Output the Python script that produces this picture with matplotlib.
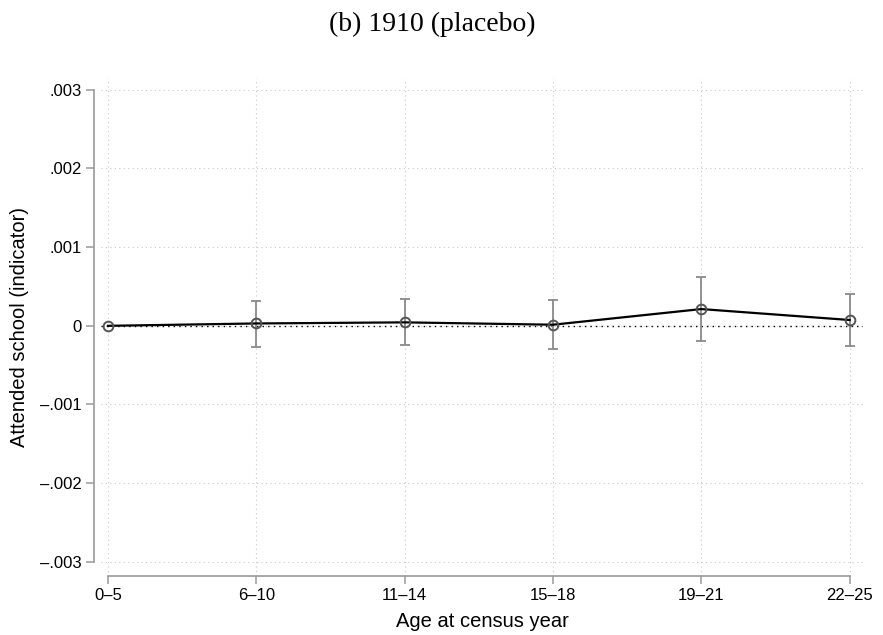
import matplotlib.pyplot as plt
import numpy as np

# event-study style estimates by age group, 1910 census (placebo)
age_groups = ["0–5", "6–10", "11–14", "15–18", "19–21", "22–25"]
coef = [0.0, 0.00003, 0.000044, 0.000014, 0.000213, 0.000074]
ci_low = [np.nan, -0.00027, -0.00025, -0.00029, -0.000189, -0.000253]
ci_high = [np.nan, 0.00031, 0.00034, 0.000328, 0.000624, 0.0004]
yticks = [-0.003, -0.002, -0.001, 0.0, 0.001, 0.002, 0.003]
ytick_labels = ["–.003", "–.002", "–.001", "0", ".001", ".002", ".003"]

plt.rcParams["font.family"] = ["Liberation Sans", "DejaVu Sans"]

fig = plt.figure(figsize=(8.83, 6.35), dpi=100)
ax = fig.add_axes([101 / 883, 1 - 576 / 635, 762 / 883, 498 / 635])

# spine placement first: moving a spine resets its axis' tick styling
for side in ["top", "right"]:
    ax.spines[side].set_visible(False)
ax.spines["left"].set_position(("outward", 5))

x = np.arange(len(age_groups))
coef = np.array(coef)
lo = np.array(ci_low)
hi = np.array(ci_high)
has_ci = ~np.isnan(lo)

grid_kw = dict(color="#c8c8c8", linestyle=(0, (1, 3)), linewidth=0.8, zorder=0)
for xv in x:
    ax.axvline(xv, **grid_kw)
for yv in yticks:
    ax.axhline(yv, **grid_kw)
ax.axhline(0, color="black", linestyle=(0, (1, 3)), linewidth=1.0, zorder=1)

ax.errorbar(x[has_ci], coef[has_ci],
            yerr=[coef[has_ci] - lo[has_ci], hi[has_ci] - coef[has_ci]],
            fmt="none", ecolor="#8a8a8a", elinewidth=1.3, capsize=3.5,
            capthick=1.3, zorder=2)
ax.plot(x, coef, color="black", linewidth=1.6, zorder=3)
ax.plot(x, coef, linestyle="none", marker="o", markersize=7,
        markerfacecolor="none", markeredgecolor="#555555",
        markeredgewidth=1.4, zorder=4)

ax.set_xlim(-0.047, 5.09)
ax.set_ylim(-0.00318, 0.00315)
ax.set_xticks(x)
ax.set_xticklabels(age_groups)
ax.set_yticks(yticks)
ax.set_yticklabels(ytick_labels)

ax.spines["left"].set_bounds(-0.003, 0.003)
ax.spines["bottom"].set_bounds(0, 5)
for side in ["left", "bottom"]:
    ax.spines[side].set_color("#9a9a9a")
    ax.spines[side].set_linewidth(1.2)
ax.tick_params(axis="both", length=6, width=1.1, color="#9a9a9a",
               labelcolor="black", labelsize=12, pad=3)

ax.set_xlabel("Age at census year", fontsize=14.5, labelpad=6)
ax.set_ylabel("Attended school (indicator)", fontsize=14.5, labelpad=8)

fig.text(432 / 883, 1 - 31 / 635, "(b) 1910 (placebo)", ha="center",
         va="baseline", fontsize=20, family=["Liberation Serif", "DejaVu Serif"])

fig.savefig("out.png", dpi=100)
